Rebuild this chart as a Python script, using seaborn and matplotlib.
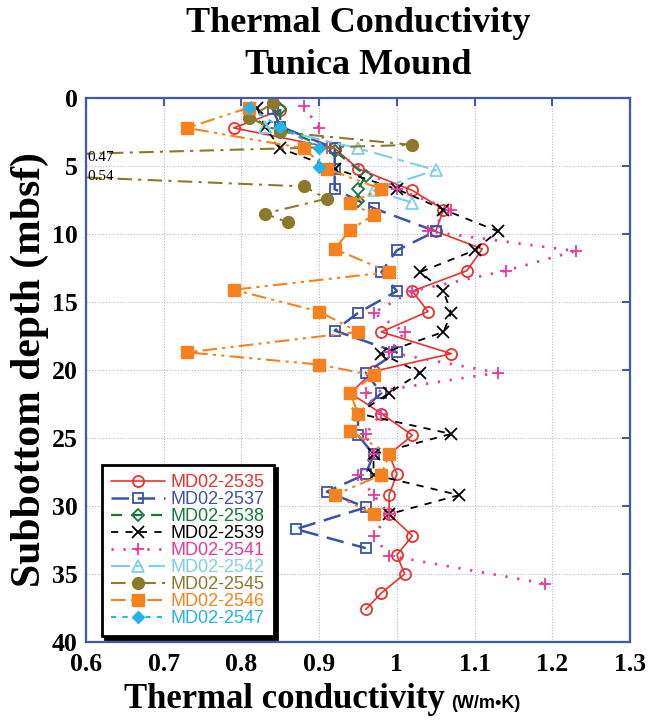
import matplotlib
matplotlib.use("Agg")
import matplotlib.pyplot as plt
import seaborn as sns
import pandas as pd

# ---------------- data ----------------
series_names = ["MD02-2535", "MD02-2537", "MD02-2538", "MD02-2539", "MD02-2541",
                "MD02-2542", "MD02-2545", "MD02-2546", "MD02-2547"]

k2535 = [0.85, 0.79, 0.92, 0.95, 1.02, 1.06, 1.05, 1.11, 1.09, 1.02, 1.04, 0.98, 1.07,
         0.97, 0.94, 0.98, 1.02, 0.99, 1.00, 0.99, 0.99, 1.02, 1.00, 1.01, 0.98, 0.96]
d2535 = [0.9, 2.2, 3.7, 5.2, 6.8, 8.2, 9.8, 11.1, 12.7, 14.2, 15.7, 17.2, 18.8,
         20.1, 21.7, 23.2, 24.8, 26.2, 27.65, 29.2, 30.6, 32.2, 33.6, 35.0, 36.4, 37.6]

k2537 = [0.84, 0.85, 0.92, 0.92, 0.92, 0.97, 1.05, 1.00, 0.98, 1.00, 0.95, 0.92,
         1.00, 0.96, 0.98, 0.95, 0.95, 0.97, 0.96, 0.91, 0.96, 0.87, 0.96]
d2537 = [0.8, 2.1, 3.7, 5.2, 6.7, 8.1, 9.8, 11.2, 12.8, 14.2, 15.8, 17.1,
         18.7, 20.2, 21.7, 23.2, 24.8, 26.2, 27.65, 28.95, 30.1, 31.7, 33.1]

k2538 = [0.85, 0.85, 0.92, 0.96, 0.95, 0.95]
d2538 = [0.8, 2.2, 3.9, 5.7, 6.7, 7.6]

k2539 = [0.82, 0.83, 0.85, 0.92, 1.00, 1.06, 1.13, 1.10, 1.03, 1.06, 1.07, 1.06,
         0.98, 1.03, 0.99, 0.95, 1.07, 0.97, 0.97, 1.08, 0.99]
d2539 = [0.7, 2.1, 3.7, 5.2, 6.7, 8.2, 9.8, 11.2, 12.8, 14.2, 15.8, 17.2,
         18.8, 20.2, 21.7, 23.2, 24.7, 26.2, 27.7, 29.2, 30.6]

k2541 = [0.88, 0.90, 0.91, 1.00, 1.07, 1.04, 1.23, 1.14, 1.02, 0.97, 1.01, 0.99,
         1.13, 0.96, 0.98, 0.96, 0.97, 0.95, 0.97, 0.99, 0.97, 0.99, 1.19]
d2541 = [0.6, 2.2, 3.65, 6.7, 8.2, 9.8, 11.25, 12.7, 14.2, 15.8, 17.2, 18.7,
         20.2, 21.7, 23.2, 24.7, 26.2, 27.7, 29.2, 30.6, 32.2, 33.65, 35.7]

k2542 = [0.83, 0.95, 1.05, 0.97, 1.02]
d2542 = [2.1, 3.7, 5.3, 6.8, 7.7]

k2545 = [0.84, 0.81, 0.85, 1.02, 0.47, 0.54, 0.88, 0.91, 0.83, 0.86]
d2545 = [0.4, 1.45, 2.5, 3.45, 4.3, 5.7, 6.5, 7.4, 8.5, 9.15]

k2546 = [0.81, 0.73, 0.88, 0.91, 0.98, 0.94, 0.97, 0.94, 0.92, 0.99, 0.79, 0.90,
         0.95, 0.73, 0.90, 0.97, 0.94, 0.95, 0.94, 0.99, 0.98, 0.92, 0.97]
d2546 = [0.7, 2.2, 3.7, 5.2, 6.7, 7.7, 8.6, 9.7, 11.1, 12.8, 14.1, 15.7,
         17.2, 18.7, 19.6, 20.4, 21.7, 23.2, 24.5, 26.2, 27.7, 29.2, 30.6]

k2547 = [0.81, 0.85, 0.90, 0.90]
d2547 = [0.7, 2.15, 3.65, 5.1]

xticks = [0.6, 0.7, 0.8, 0.9, 1.0, 1.1, 1.2, 1.3]
xtick_labels = ["0.6", "0.7", "0.8", "0.9", "1", "1.1", "1.2", "1.3"]
yticks = [0, 5, 10, 15, 20, 25, 30, 35, 40]
ytick_labels = ["0", "5", "10", "15", "20", "25", "30", "35", "40"]

# ---------------- styles ----------------
AXBLUE = "#4557A8"
styles = [
    dict(color="#E8322E", marker="o", ms=8, filled=False, lw=1.2, ls="-"),
    dict(color="#3B52A6", marker="s", ms=7.5, filled=False, lw=1.8, ls=(0, (7, 3.5))),
    dict(color="#17783A", marker="D", ms=6, filled=False, lw=1.6, ls=(0, (5, 4))),
    dict(color="#000000", marker="x", ms=8.5, filled=False, lw=1.3, ls=(0, (4, 4))),
    dict(color="#E8389A", marker="+", ms=9, filled=False, lw=2.0, ls=(0, (0.8, 3.5))),
    dict(color="#7DCFEA", marker="^", ms=8.5, filled=False, lw=1.5, ls=(0, (9, 3, 3, 3))),
    dict(color="#8C7A2B", marker="o", ms=8.5, filled=True, lw=1.5, ls=(0, (7, 3, 1.5, 3))),
    dict(color="#F5821F", marker="s", ms=8.5, filled=True, lw=1.5, ls=(0, (7, 2.5, 1.5, 2.5, 1.5, 2.5))),
    dict(color="#23B4EA", marker="D", ms=6.5, filled=True, lw=1.5, ls=(0, (2.5, 3))),
]
ks = [k2535, k2537, k2538, k2539, k2541, k2542, k2545, k2546, k2547]
ds = [d2535, d2537, d2538, d2539, d2541, d2542, d2545, d2546, d2547]

sns.set_style("white")
plt.rcParams['font.family'] = ['Liberation Serif', 'DejaVu Serif']
plt.rcParams['text.color'] = 'black'
plt.rcParams['xtick.color'] = 'black'
plt.rcParams['ytick.color'] = 'black'
plt.rcParams['axes.labelcolor'] = 'black'

W, H = 648, 724
fig = plt.figure(figsize=(W / 100, H / 100), dpi=100)
ax = fig.add_axes([86 / W, 1 - 642 / H, (630 - 86) / W, (642 - 98) / H])

handles = []
for name, k, d, st in zip(series_names, ks, ds, styles):
    df = pd.DataFrame({"k": k, "depth": d})
    sns.lineplot(data=df, x="k", y="depth", sort=False, estimator=None, ax=ax,
                 color=st["color"], linewidth=st["lw"], linestyle=st["ls"],
                 marker=st["marker"], markersize=st["ms"],
                 markerfacecolor=(st["color"] if st["filled"] else "none"),
                 markeredgecolor=st["color"],
                 markeredgewidth=(1.0 if st["filled"] else 1.3),
                 legend=False, clip_on=True)
    handles.append(ax.lines[-1])

# off-scale values labelled at the left edge
for kv, dv in zip(k2545, d2545):
    if kv < 0.6:
        ax.text(0.6015, dv + 0.1, f"{kv:.2f}", fontsize=11, ha="left", va="center",
                color="black")

ax.set_xlim(0.6, 1.3)
ax.set_ylim(40, 0)
ax.set_xticks(xticks)
ax.set_xticklabels(xtick_labels, fontsize=18.5, fontweight="bold")
ax.set_yticks(yticks)
ax.set_yticklabels(ytick_labels, fontsize=18.5, fontweight="bold")
ax.set_xlabel("")
ax.set_ylabel("")
ax.tick_params(direction="in", length=6, width=1.5, color=AXBLUE,
               top=True, right=True, labeltop=False, labelright=False)
ax.tick_params(axis="x", pad=8, labelcolor="black")
ax.tick_params(axis="y", pad=6, labelcolor="black")
for sp in ax.spines.values():
    sp.set_color(AXBLUE)
    sp.set_linewidth(1.6)
ax.grid(True, color="#AEB7DA", linestyle=(0, (1, 1.5)), linewidth=0.8)
ax.set_axisbelow(True)

leg = ax.legend(handles, series_names, loc="upper left",
                bbox_to_anchor=(102 / W, 1 - 465 / H), bbox_transform=fig.transFigure,
                frameon=True, fancybox=False, shadow={"color": "black", "alpha": 1},
                prop={"family": ["Liberation Sans", "DejaVu Sans"], "size": 13},
                handlelength=3.0, handletextpad=0.3, labelspacing=0.0,
                borderpad=0.5, borderaxespad=0)
leg.get_frame().set_edgecolor("black")
leg.get_frame().set_linewidth(2.0)
leg.get_frame().set_facecolor("white")
for txt, st in zip(leg.get_texts(), styles):
    txt.set_color(st["color"])

cx = (86 + 630) / 2 / W
fig.text(cx, 1 - 24 / H, "Thermal Conductivity", ha="center", va="center",
         fontsize=26, fontweight="bold")
fig.text(cx, 1 - 65 / H, "Tunica Mound", ha="center", va="center",
         fontsize=26, fontweight="bold")
fig.text(30 / W, 1 - 370 / H, "Subbottom depth (mbsf)", rotation=90,
         ha="center", va="center", fontsize=30, fontweight="bold")

t1 = fig.text(124 / W, 1 - 708 / H, "Thermal conductivity", ha="left",
              va="baseline", fontsize=25, fontweight="bold")
renderer = fig.canvas.get_renderer()
bb = t1.get_window_extent(renderer)
fig.text((bb.x1 + 6) / W, 1 - 708 / H, "(W/m\u2022K)", ha="left", va="baseline",
         fontsize=13, fontweight="bold",
         family=["Liberation Sans Narrow", "Liberation Sans", "DejaVu Sans"])

fig.savefig("out.png", dpi=100)
